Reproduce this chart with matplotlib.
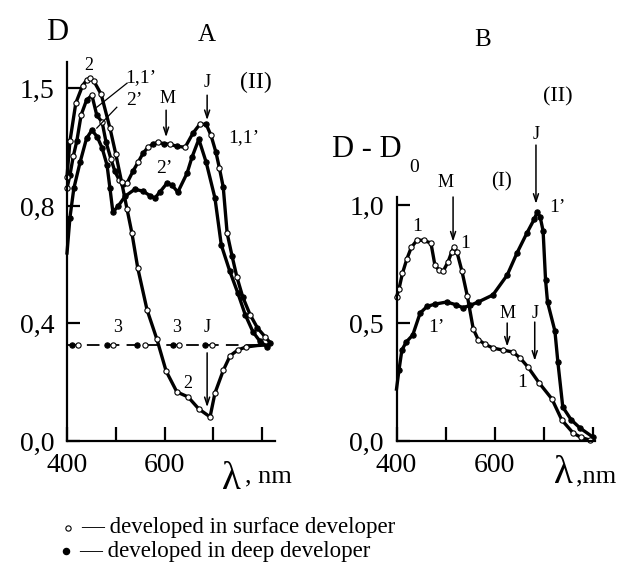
import matplotlib
matplotlib.use("Agg")
import matplotlib.pyplot as plt
from matplotlib.lines import Line2D

plt.rcParams['font.family'] = ['Liberation Serif', 'DejaVu Serif']

W, H = 626, 562

# ---------------- Panel A data ----------------
# curve 2 (surface developer, open circles)
lam_A2 = [400, 406, 418, 432, 440, 447, 455, 470, 488, 500, 512, 523, 533, 545, 564, 584, 603, 625, 648,
          670, 693, 703, 720, 734, 750, 767, 790, 810]
D_A2 = [0.90, 1.02, 1.15, 1.21, 1.228, 1.235, 1.225, 1.18, 1.065, 0.976, 0.88, 0.789, 0.707, 0.588, 0.446,
        0.347, 0.238, 0.167, 0.15, 0.109, 0.082, 0.163, 0.24, 0.29, 0.31, 0.32, 0.325, 0.327]
# curve 1,1' (both developers)
lam_A1 = [400, 406, 413, 420, 429, 440, 451, 461, 472, 480, 490, 498, 507, 515, 523, 535, 546, 556, 566,
          576, 586, 598, 611, 625, 642, 658, 672, 685, 695, 705, 712, 720, 728, 738, 748, 760, 775, 790,
          806, 816]
D_A1 = [0.86, 0.905, 0.97, 1.02, 1.11, 1.16, 1.177, 1.109, 1.085, 1.017, 0.96, 0.918, 0.888, 0.875, 0.878,
        0.918, 0.95, 0.98, 1.0, 1.01, 1.017, 1.012, 1.01, 1.003, 1.0, 1.048, 1.078, 1.078, 1.04, 0.983,
        0.93, 0.864, 0.707, 0.63, 0.558, 0.49, 0.43, 0.385, 0.354, 0.335]
# curve 2' (deep developer, filled)
lam_A2p = [400, 406, 414, 427, 440, 451, 462, 472, 482, 488, 494, 505, 519, 539, 556, 570, 580, 590, 605,
           615, 627, 646, 656, 670, 685, 703, 716, 733, 750, 765, 781, 795, 810]
D_A2p = [0.64, 0.76, 0.86, 0.95, 1.03, 1.058, 1.035, 0.997, 0.939, 0.86, 0.779, 0.80, 0.833, 0.857, 0.85,
         0.835, 0.827, 0.847, 0.878, 0.871, 0.847, 0.912, 0.966, 1.027, 0.949, 0.827, 0.667, 0.58, 0.503,
         0.43, 0.371, 0.34, 0.32]
# curve 3 (dashed reference level)
lam_A3 = [400, 810]
D_A3 = [0.327, 0.327]
lam_A3_filled = [410, 482, 543, 617, 683]
lam_A3_open = [423, 494, 560, 630, 697]

# ---------------- Panel B data ----------------
lam_B1 = [400, 405, 412, 421, 430, 442, 455, 470, 478, 486, 495, 505, 512, 517, 523, 533, 544, 556, 566,
          580, 596, 617, 637, 652, 667, 690, 716, 736, 759, 775, 793]
D_B1 = [0.61, 0.644, 0.71, 0.771, 0.82, 0.852, 0.85, 0.839, 0.746, 0.725, 0.72, 0.76, 0.80, 0.822, 0.80,
        0.72, 0.614, 0.475, 0.43, 0.41, 0.394, 0.385, 0.377, 0.35, 0.314, 0.246, 0.178, 0.089, 0.034,
        0.015, 0.004]
lam_B1p = [400, 405, 411, 420, 433, 448, 462, 478, 502, 520, 535, 550, 566, 596, 625, 645, 665, 680, 686,
           692, 698, 703, 707, 722, 728, 738, 755, 773, 799]
D_B1p = [0.22, 0.30, 0.386, 0.42, 0.449, 0.542, 0.57, 0.58, 0.589, 0.578, 0.565, 0.575, 0.589, 0.619,
         0.703, 0.797, 0.881, 0.94, 0.970, 0.95, 0.89, 0.682, 0.589, 0.466, 0.335, 0.144, 0.09, 0.055, 0.017]

A_yticks = [0.0, 0.4, 0.8, 1.2]
A_yticklabels = ["0,0", "0,4", "0,8", "1,5"]
B_yticks = [0.0, 0.5, 1.0]
B_yticklabels = ["0,0", "0,5", "1,0"]
xticks = [400, 500, 600, 700, 800]
xticklabels = ["400", "", "600", "", ""]

fig = plt.figure(figsize=(W / 100, H / 100), dpi=100)


def fx(px):
    return px / W


def fy(py):
    return 1 - py / H


axA = fig.add_axes([fx(67), fy(441), 208 / W, 379 / H])
axB = fig.add_axes([fx(396.5), fy(441), 198.5 / W, 244 / H])
axA.set_xlim(400, 826)
axA.set_ylim(0, 1.29)
axB.set_xlim(400, 803.5)
axB.set_ylim(0, 1.034)

for ax in (axA, axB):
    ax.patch.set_alpha(0)
    for s in ('top', 'right'):
        ax.spines[s].set_visible(False)
    for s in ('left', 'bottom'):
        ax.spines[s].set_linewidth(1.6)
    ax.set_xticks(xticks)
    ax.set_xticklabels(xticklabels)
    ax.tick_params(axis='x', direction='in', length=10, width=1.6, pad=9, labelsize=20)
    ax.tick_params(axis='y', direction='in', length=9, width=1.6, pad=9, labelsize=20)

axA.set_yticks(A_yticks)
axA.set_yticklabels(A_yticklabels)
axB.set_yticks(B_yticks)
axB.set_yticklabels(B_yticklabels)

lw = 2.4
ms = 3.8
open_kw = dict(marker='o', markersize=ms, markerfacecolor='white', markeredgecolor='black',
               markeredgewidth=0.8)
fill_kw = dict(marker='o', markersize=ms, markerfacecolor='black', markeredgecolor='black',
               markeredgewidth=0.8)

# Panel A curves
axA.plot(lam_A3, D_A3, color='black', lw=1.3, dashes=(7, 4), clip_on=False)
axA.plot(lam_A3_filled, [D_A3[0]] * len(lam_A3_filled), ls='none', **fill_kw)
axA.plot(lam_A3_open, [D_A3[0]] * len(lam_A3_open), ls='none', **open_kw)

axA.plot(lam_A2p, D_A2p, color='black', lw=lw, clip_on=False,
         markevery=list(range(1, len(lam_A2p))), **fill_kw)
axA.plot(lam_A1, D_A1, color='black', lw=lw, clip_on=False)
axA.plot(lam_A1[1::2], D_A1[1::2], ls='none', clip_on=False, **fill_kw)
axA.plot(lam_A1[0::2], D_A1[0::2], ls='none', clip_on=False, **open_kw)
axA.plot(lam_A2, D_A2, color='black', lw=lw, clip_on=False,
         markevery=list(range(0, len(lam_A2) - 2)), **open_kw)

# Panel B curves
axB.plot(lam_B1p, D_B1p, color='black', lw=lw, clip_on=False,
         markevery=list(range(1, len(lam_B1p))), **fill_kw)
axB.plot(lam_B1, D_B1, color='black', lw=lw, clip_on=False,
         markevery=list(range(0, len(lam_B1))), **open_kw)

# ---------------- annotations ----------------
tkw = dict(ha='center', va='center', clip_on=False)


def arrow(ax, x, y0, y1):
    ax.annotate('', xy=(x, y1), xytext=(x, y0), annotation_clip=False,
                arrowprops=dict(arrowstyle='->,head_length=0.55,head_width=0.18', lw=1.1,
                                color='black', shrinkA=0, shrinkB=0))


# Panel A
axA.text(445, 1.279, "2", fontsize=13, **tkw)
axA.text(552, 1.238, "1,1\u2019", fontsize=14, **tkw)
axA.plot([523, 461], [1.218, 1.136], color='black', lw=0.9, clip_on=False)
axA.text(537, 1.16, "2\u2019", fontsize=14, **tkw)
axA.plot([502, 461], [1.136, 1.065], color='black', lw=0.9, clip_on=False)
axA.text(605, 1.167, "M", fontsize=13, **tkw)
arrow(axA, 603, 1.126, 1.034)
axA.text(687, 1.221, "J", fontsize=13, **tkw)
arrow(axA, 687, 1.177, 1.092)
axA.text(787, 1.221, "(II)", fontsize=17, **tkw)
axA.text(762, 1.034, "1,1\u2019", fontsize=14, **tkw)
axA.text(599, 0.929, "2\u2019", fontsize=14, **tkw)
axA.text(648, 0.197, "2", fontsize=13, **tkw)
axA.text(504, 0.388, "3", fontsize=13, **tkw)
axA.text(625, 0.388, "3", fontsize=13, **tkw)
axA.text(687, 0.388, "J", fontsize=13, **tkw)
arrow(axA, 687, 0.30, 0.115)

# Panel B
axB.text(683.5, 1.297, "J", fontsize=13, **tkw)
arrow(axB, 683.5, 1.254, 1.005)
axB.text(500, 1.097, "M", fontsize=13, **tkw)
arrow(axB, 515, 1.034, 0.845)
axB.text(614, 1.097, "(I)", fontsize=15, **tkw)
axB.text(728, 0.99, "1\u2019", fontsize=14, **tkw)
axB.text(442, 0.907, "1", fontsize=14, **tkw)
axB.text(539, 0.839, "1", fontsize=14, **tkw)
axB.text(482, 0.479, "1\u2019", fontsize=14, **tkw)
axB.text(625, 0.542, "M", fontsize=13, **tkw)
arrow(axB, 625, 0.50, 0.40)
axB.text(681, 0.542, "J", fontsize=13, **tkw)
arrow(axB, 681, 0.504, 0.34)
axB.text(655, 0.246, "1", fontsize=14, **tkw)

# figure-level titles / axis labels
fig.text(fx(57), fy(33), "D", fontsize=22, ha='center', va='center')
fig.text(fx(207), fy(35), "A", fontsize=18, ha='center', va='center')
fig.text(fx(483), fy(40), "B", fontsize=18, ha='center', va='center')
fig.text(fx(558), fy(97), "(II)", fontsize=16, ha='center', va='center')
fig.text(fx(332), fy(157), "D - D", fontsize=22, ha='left', va='baseline')
fig.text(fx(409), fy(172), "0", fontsize=14, ha='left', va='baseline')

fig.text(fx(222), fy(489), "\u03bb", fontsize=28, ha='left', va='baseline')
fig.text(fx(245), fy(482), ", nm", fontsize=19, ha='left', va='baseline')
fig.text(fx(554), fy(483), "\u03bb", fontsize=28, ha='left', va='baseline')
fig.text(fx(576), fy(482), ",nm", fontsize=19, ha='left', va='baseline')

# legend
fig.add_artist(Line2D([fx(68)], [fy(528)], transform=fig.transFigure, ls='none', **open_kw))
fig.add_artist(Line2D([fx(66)], [fy(551)], transform=fig.transFigure, ls='none',
                      marker='o', markersize=4.4, markerfacecolor='black', markeredgecolor='black'))
fig.text(fx(81), fy(528), "\u2014 developed in surface developer", fontsize=16.5, ha='left', va='center')
fig.text(fx(79), fy(551), "\u2014 developed in deep developer", fontsize=16.5, ha='left', va='center')

fig.savefig("out.png", dpi=100)
